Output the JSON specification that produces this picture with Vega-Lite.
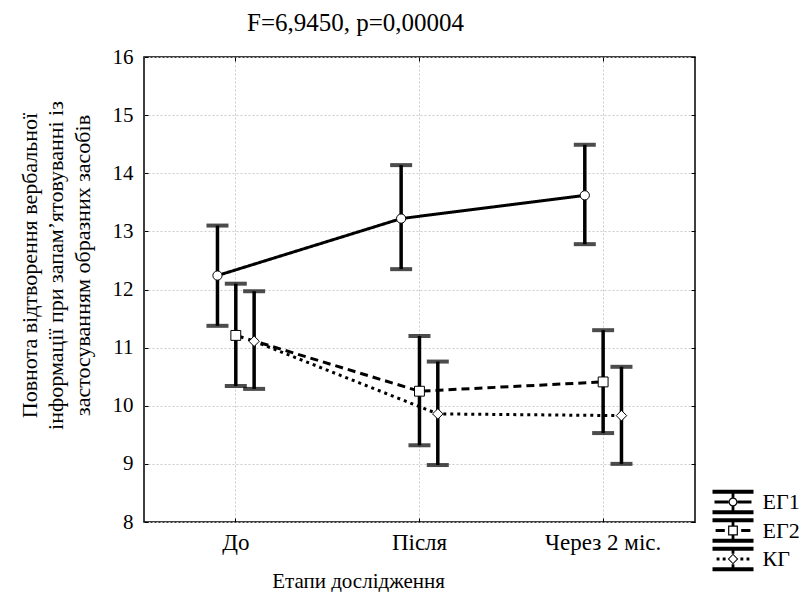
{
  "$schema": "https://vega.github.io/schema/vega-lite/v6.json",
  "autosize": "none",
  "padding": {"left": 144, "top": 57, "right": 110, "bottom": 70},
  "width": 551,
  "height": 465,
  "background": "white",
  "title": {"text": "F=6,9450, p=0,00004", "anchor": "start", "frame": "group", "dx": 103, "offset": 10, "font": "Liberation Serif", "fontSize": 25, "fontWeight": "normal", "color": "black"},
  "config": {
    "view": {"stroke": "black", "strokeWidth": 1.5},
    "axis": {"labelFont": "Liberation Serif", "labelFontSize": 21, "labelColor": "black", "titleFont": "Liberation Serif", "titleFontSize": 21, "titleFontWeight": "normal", "titleColor": "black", "gridColor": "#cccccc", "gridDash": [2, 2], "gridWidth": 1, "domain": false, "tickColor": "black", "tickSize": -4, "tickWidth": 1}
  },
  "data": {"values": [
    {"stage": "До", "group": "ЕГ1", "mean": 12.24, "lo": 11.375, "hi": 13.10},
    {"stage": "Після", "group": "ЕГ1", "mean": 13.22, "lo": 12.35, "hi": 14.14},
    {"stage": "Через 2 міс.", "group": "ЕГ1", "mean": 13.62, "lo": 12.78, "hi": 14.49},
    {"stage": "До", "group": "ЕГ2", "mean": 11.21, "lo": 10.34, "hi": 12.10},
    {"stage": "Після", "group": "ЕГ2", "mean": 10.25, "lo": 9.32, "hi": 11.20},
    {"stage": "Через 2 міс.", "group": "ЕГ2", "mean": 10.41, "lo": 9.53, "hi": 11.30},
    {"stage": "До", "group": "КГ", "mean": 11.11, "lo": 10.29, "hi": 11.97},
    {"stage": "Після", "group": "КГ", "mean": 9.86, "lo": 8.98, "hi": 10.76},
    {"stage": "Через 2 міс.", "group": "КГ", "mean": 9.83, "lo": 9.0, "hi": 10.67}
  ]},
  "encoding": {
    "x": {"field": "stage", "type": "nominal", "sort": ["До", "Після", "Через 2 міс."], "scale": {"type": "band", "paddingInner": 0, "paddingOuter": 0}},
    "xOffset": {"field": "group", "type": "nominal", "sort": ["ЕГ1", "ЕГ2", "КГ"], "scale": {"type": "point", "range": [64.3, 119.3]}}
  },
  "layer": [
    {
      "mark": {"type": "rule", "color": "black", "strokeWidth": 3.5},
      "encoding": {
        "x": {"field": "stage", "type": "nominal", "sort": ["До", "Після", "Через 2 міс."], "axis": {"orient": "bottom", "title": "Етапи дослідження", "titleX": 214, "titlePadding": 16, "labelAngle": 0, "labelPadding": 13, "labelFontSize": 23, "bandPosition": 0.5, "grid": true}},
        "y": {"field": "lo", "type": "quantitative", "scale": {"domain": [8, 16], "nice": false, "zero": false}, "axis": {"orient": "left", "values": [8, 9, 10, 11, 12, 13, 14, 15, 16], "grid": true, "labelPadding": 15, "title": ["Повнота відтворення вербальної", "інформації при запам’ятовуванні із", "застосуванням образних засобів"], "titleFontSize": 22, "titleLineHeight": 26.5, "titleY": 208, "titlePadding": 18}},
        "y2": {"field": "hi"}
      }
    },
    {
      "mark": {"type": "tick", "color": "black", "size": 22, "thickness": 4, "orient": "horizontal"},
      "encoding": {
        "x": {"field": "stage", "type": "nominal", "sort": ["До", "Після", "Через 2 міс."], "axis": {"orient": "top", "labels": false, "title": null, "grid": false, "bandPosition": 0.5}},
        "y": {"field": "lo", "type": "quantitative", "axis": {"orient": "right", "labels": false, "title": null, "grid": false, "values": [8, 9, 10, 11, 12, 13, 14, 15, 16]}}
      }
    },
    {
      "mark": {"type": "tick", "color": "black", "size": 22, "thickness": 4, "orient": "horizontal"},
      "encoding": {
        "x": {"field": "stage", "type": "nominal", "sort": ["До", "Після", "Через 2 міс."], "axis": null},
        "y": {"field": "hi", "type": "quantitative", "axis": null}
      }
    },
    {
      "mark": {"type": "line", "color": "black", "strokeWidth": 3},
      "encoding": {
        "x": {"field": "stage", "type": "nominal", "sort": ["До", "Після", "Через 2 міс."], "axis": null},
        "y": {"field": "mean", "type": "quantitative", "axis": null},
        "strokeDash": {"field": "group", "type": "nominal", "scale": {"domain": ["ЕГ1", "ЕГ2", "КГ"], "range": [[1, 0], [8, 5], [3, 4]]}, "legend": null}
      }
    },
    {
      "mark": {"type": "point", "filled": true, "fill": "white", "stroke": "black", "strokeWidth": 1, "opacity": 1},
      "encoding": {
        "x": {"field": "stage", "type": "nominal", "sort": ["До", "Після", "Через 2 міс."], "axis": null},
        "y": {"field": "mean", "type": "quantitative", "axis": null},
        "shape": {"field": "group", "type": "nominal", "scale": {"domain": ["ЕГ1", "ЕГ2", "КГ"], "range": ["circle", "square", "diamond"]}, "legend": null},
        "size": {"field": "group", "type": "nominal", "scale": {"domain": ["ЕГ1", "ЕГ2", "КГ"], "range": [85, 110, 100]}, "legend": null}
      }
    },
    {
      "mark": {"type": "point", "filled": true, "color": "black", "strokeWidth": 0, "opacity": 0},
      "encoding": {
        "x": {"field": "stage", "type": "nominal", "sort": ["До", "Після", "Через 2 міс."], "axis": null},
        "y": {"field": "mean", "type": "quantitative", "axis": null},
        "shape": {"field": "group", "type": "nominal", "scale": {"domain": ["ЕГ1", "ЕГ2", "КГ"], "range": [
          "M-2.05,-1.23H2.05V-0.82H-2.05Z M-2.05,0.82H2.05V1.23H-2.05Z M-0.14,-0.82H0.14V-0.45H-0.14Z M-0.14,0.45H0.14V0.82H-0.14Z M-1.85,-0.14H-0.45V0.14H-1.85Z M0.45,-0.14H1.85V0.14H0.45Z M0.45,0A0.45,0.45 0 1,1 -0.45,0A0.45,0.45 0 1,1 0.45,0Z M0.33,0A0.33,0.33 0 1,0 -0.33,0A0.33,0.33 0 1,0 0.33,0Z",
          "M-2.05,-1.23H2.05V-0.82H-2.05Z M-2.05,0.82H2.05V1.23H-2.05Z M-0.14,-0.82H0.14V-0.49H-0.14Z M-0.14,0.49H0.14V0.82H-0.14Z M-1.74,-0.14H-0.82V0.14H-1.74Z M0.82,-0.14H1.74V0.14H0.82Z M-0.49,-0.49H0.49V0.49H-0.49Z M-0.37,-0.37V0.37H0.37V-0.37Z",
          "M-2.05,-1.23H2.05V-0.82H-2.05Z M-2.05,0.82H2.05V1.23H-2.05Z M-0.14,-0.82H0.14V-0.53H-0.14Z M-0.14,0.53H0.14V0.82H-0.14Z M-1.64,-0.14H-1.35V0.14H-1.64Z M-1.03,-0.14H-0.74V0.14H-1.03Z M0.74,-0.14H1.03V0.14H0.74Z M1.35,-0.14H1.64V0.14H1.35Z M0,-0.53L0.53,0L0,0.53L-0.53,0Z M0,-0.39L-0.39,0L0,0.39L0.39,0Z"
        ]}, "legend": {"title": null, "orient": "none", "legendX": 578, "legendY": 434, "padding": 0, "symbolSize": 400, "symbolFillColor": "black", "symbolStrokeColor": "black", "symbolStrokeWidth": 0, "symbolOpacity": 1, "labelFont": "Liberation Serif", "labelFontSize": 22, "labelColor": "black", "labelOffset": 18.5, "rowPadding": 2.5, "encode": {"symbols": {"update": {"fill": {"value": "black"}, "stroke": {"value": "transparent"}, "opacity": {"value": 1}, "size": {"value": 400}}}}}}
      }
    }
  ],
  "resolve": {"scale": {"shape": "independent", "size": "independent"}, "axis": {"x": "independent", "y": "independent"}}
}
